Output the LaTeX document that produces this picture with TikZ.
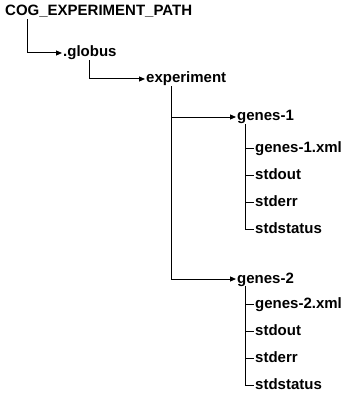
\documentclass[tikz,border=0pt]{standalone}
\usepackage{fontspec}
\setmainfont{Liberation Sans}
\usetikzlibrary{arrows.meta}

\tikzset{
    dir/.style={anchor=west, inner xsep=1pt, inner ysep=0pt, text height=11pt, text depth=3pt,
        font=\fontsize{15}{17}\selectfont\bfseries},
    link/.style={line width=1pt},
    arr/.style={link, -{Triangle[length=6pt, width=5pt]}}
}

\begin{document}
\begin{tikzpicture}[x=1pt, y=-1pt]
    \useasboundingbox (0,0) rectangle (346,393);

    % directory levels
    \node[dir] (Root) at (4,12) {COG\_EXPERIMENT\_PATH};
    \node[dir] (Globus) at (62,53) {.globus};
    \node[dir] (Exp) at (145,79) {experiment};
    \node[dir] (Genes1) at (236,117) {genes-1};
    \node[dir] (Genes2) at (236,279) {genes-2};

    \draw[arr] ([xshift=23pt]Root.south west) |- (Globus.west);
    \draw[arr] ([xshift=27pt]Globus.south west) |- (Exp.west);
    \draw[arr] ([xshift=26pt]Exp.south west) |- (Genes1.west);
    \draw[arr] ([xshift=26pt]Exp.south west) |- (Genes2.west);

    % files in each run
    \foreach \f/\y [count=\i] in {genes-1.xml/148, stdout/175, stderr/202, stdstatus/229} {
        \node[dir] (FileA\i) at (254,\y) {\f};
        \draw[link] ([xshift=9pt]Genes1.south west) |- (FileA\i.west);
    }
    \foreach \f/\y [count=\i] in {genes-2.xml/304, stdout/331, stderr/358, stdstatus/385} {
        \node[dir] (FileB\i) at (254,\y) {\f};
        \draw[link] ([xshift=9pt]Genes2.south west) |- (FileB\i.west);
    }
\end{tikzpicture}
\end{document}
